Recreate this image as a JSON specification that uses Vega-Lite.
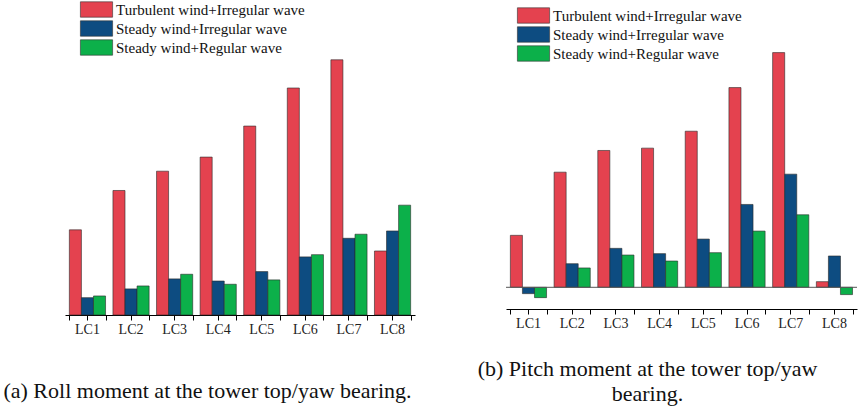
{
  "$schema": "https://vega.github.io/schema/vega-lite/v6.json",
  "description": "Tower top roll and pitch moments for eight load cases under three wind/wave conditions.",
  "autosize": {"type": "none"},
  "padding": {"left": 65, "top": 27, "right": 793, "bottom": 386},
  "background": "white",
  "datasets": {
    "roll": [
      {"lc": "LC1", "cond": "Turbulent wind+Irregular wave", "value": 6040000},
      {"lc": "LC1", "cond": "Steady wind+Irregular wave", "value": 1230000},
      {"lc": "LC1", "cond": "Steady wind+Regular wave", "value": 1350000},
      {"lc": "LC2", "cond": "Turbulent wind+Irregular wave", "value": 8830000},
      {"lc": "LC2", "cond": "Steady wind+Irregular wave", "value": 1850000},
      {"lc": "LC2", "cond": "Steady wind+Regular wave", "value": 2060000},
      {"lc": "LC3", "cond": "Turbulent wind+Irregular wave", "value": 10200000},
      {"lc": "LC3", "cond": "Steady wind+Irregular wave", "value": 2560000},
      {"lc": "LC3", "cond": "Steady wind+Regular wave", "value": 2890000},
      {"lc": "LC4", "cond": "Turbulent wind+Irregular wave", "value": 11200000},
      {"lc": "LC4", "cond": "Steady wind+Irregular wave", "value": 2410000},
      {"lc": "LC4", "cond": "Steady wind+Regular wave", "value": 2180000},
      {"lc": "LC5", "cond": "Turbulent wind+Irregular wave", "value": 13400000},
      {"lc": "LC5", "cond": "Steady wind+Irregular wave", "value": 3080000},
      {"lc": "LC5", "cond": "Steady wind+Regular wave", "value": 2490000},
      {"lc": "LC6", "cond": "Turbulent wind+Irregular wave", "value": 16100000},
      {"lc": "LC6", "cond": "Steady wind+Irregular wave", "value": 4120000},
      {"lc": "LC6", "cond": "Steady wind+Regular wave", "value": 4280000},
      {"lc": "LC7", "cond": "Turbulent wind+Irregular wave", "value": 18100000},
      {"lc": "LC7", "cond": "Steady wind+Irregular wave", "value": 5440000},
      {"lc": "LC7", "cond": "Steady wind+Regular wave", "value": 5730000},
      {"lc": "LC8", "cond": "Turbulent wind+Irregular wave", "value": 4540000},
      {"lc": "LC8", "cond": "Steady wind+Irregular wave", "value": 5960000},
      {"lc": "LC8", "cond": "Steady wind+Regular wave", "value": 7790000}
    ],
    "pitch": [
      {"lc": "LC1", "cond": "Turbulent wind+Irregular wave", "value": 5990},
      {"lc": "LC1", "cond": "Steady wind+Irregular wave", "value": -730},
      {"lc": "LC1", "cond": "Steady wind+Regular wave", "value": -1190},
      {"lc": "LC2", "cond": "Turbulent wind+Irregular wave", "value": 13270},
      {"lc": "LC2", "cond": "Steady wind+Irregular wave", "value": 2720},
      {"lc": "LC2", "cond": "Steady wind+Regular wave", "value": 2230},
      {"lc": "LC3", "cond": "Turbulent wind+Irregular wave", "value": 15770},
      {"lc": "LC3", "cond": "Steady wind+Irregular wave", "value": 4490},
      {"lc": "LC3", "cond": "Steady wind+Regular wave", "value": 3720},
      {"lc": "LC4", "cond": "Turbulent wind+Irregular wave", "value": 16040},
      {"lc": "LC4", "cond": "Steady wind+Irregular wave", "value": 3880},
      {"lc": "LC4", "cond": "Steady wind+Regular wave", "value": 3030},
      {"lc": "LC5", "cond": "Turbulent wind+Irregular wave", "value": 17990},
      {"lc": "LC5", "cond": "Steady wind+Irregular wave", "value": 5560},
      {"lc": "LC5", "cond": "Steady wind+Regular wave", "value": 3990},
      {"lc": "LC6", "cond": "Turbulent wind+Irregular wave", "value": 23020},
      {"lc": "LC6", "cond": "Steady wind+Irregular wave", "value": 9550},
      {"lc": "LC6", "cond": "Steady wind+Regular wave", "value": 6480},
      {"lc": "LC7", "cond": "Turbulent wind+Irregular wave", "value": 27050},
      {"lc": "LC7", "cond": "Steady wind+Irregular wave", "value": 13040},
      {"lc": "LC7", "cond": "Steady wind+Regular wave", "value": 8360},
      {"lc": "LC8", "cond": "Turbulent wind+Irregular wave", "value": 650},
      {"lc": "LC8", "cond": "Steady wind+Irregular wave", "value": 3610},
      {"lc": "LC8", "cond": "Steady wind+Regular wave", "value": -840}
    ]
  },
  "config": {
    "font": "Liberation Serif",
    "view": {"stroke": null},
    "axis": {
      "labelFont": "Liberation Serif",
      "titleFont": "Liberation Serif",
      "labelColor": "#222",
      "titleColor": "#111",
      "titleFontWeight": "normal",
      "titleFontSize": 16,
      "labelFontSize": 13,
      "labelOverlap": false,
      "domainColor": "#000",
      "tickColor": "#000",
      "tickSize": 5,
      "grid": false
    }
  },
  "spacing": 91,
  "bounds": "flush",
  "resolve": {
    "scale": {"y": "independent", "color": "independent"},
    "legend": {"color": "independent"}
  },
  "hconcat": [
    {
      "width": 350,
      "height": 288,
      "data": {"name": "roll"},
      "resolve": {"axis": {"x": "independent"}},
      "layer": [
        {
          "mark": {"type": "bar", "stroke": "#2a2a2a", "strokeWidth": 0.6},
          "encoding": {
            "x": {
              "field": "lc", "type": "nominal", "sort": null,
              "scale": {"paddingInner": 0.17, "paddingOuter": 0.1},
              "axis": {
                "title": "(a) Roll moment at the tower top/yaw bearing.",
                "titleFontSize": 22, "titleX": 142, "titleY": 82, "titleBaseline": "alphabetic", "titleAlign": "center",
                "labelAngle": 0, "labelFontSize": 14, "orient": "bottom"
              }
            },
            "xOffset": {"field": "cond", "sort": ["Turbulent wind+Irregular wave", "Steady wind+Irregular wave", "Steady wind+Regular wave"]},
            "y": {
              "field": "value", "type": "quantitative",
              "scale": {"domain": [0, 20425532], "nice": false},
              "axis": {
                "title": "Tower top short-time DEL(N·m)",
                "titleX": -56, "titleY": 146, "titleBaseline": "middle", "titleAlign": "center",
                "labelPadding": 3,
                "values": [0, 2000000, 4000000, 6000000, 8000000, 10000000, 12000000, 14000000, 16000000, 18000000, 20000000],
                "labelExpr": "datum.value == 0 ? '0.0' : datum.value >= 1e7 ? format(datum.value / 1e7, '.1f') + '×10⁷' : format(datum.value / 1e6, '.1f') + '×10⁶'"
              }
            },
            "color": {
              "field": "cond", "type": "nominal",
              "sort": ["Turbulent wind+Irregular wave", "Steady wind+Irregular wave", "Steady wind+Regular wave"],
              "scale": {
                "domain": ["Turbulent wind+Irregular wave", "Steady wind+Irregular wave", "Steady wind+Regular wave"],
                "range": ["#e4424f", "#0d4c81", "#0cb04a"]
              },
              "legend": {
                "orient": "none", "legendX": 24, "legendY": -25, "title": null,
                "symbolType": "M-2.3,-1.1H2.3V1.1H-2.3Z", "symbolSize": 196,
                "symbolStrokeColor": "#333", "symbolStrokeWidth": 0.6, "symbolOpacity": 1,
                "labelFont": "Liberation Serif", "labelFontSize": 15, "labelColor": "#111",
                "labelOffset": 12, "rowPadding": 0, "labelLimit": 400
              }
            }
          }
        },
        {
          "mark": {"type": "bar", "opacity": 0},
          "encoding": {
            "x": {"field": "lc", "type": "nominal", "sort": null, "axis": {"orient": "bottom", "tickBand": "extent", "labels": false, "domain": false, "title": null}},
            "y": {"field": "value", "type": "quantitative", "axis": null}
          }
        }
      ]
    },
    {
      "width": 351,
      "height": 282,
      "data": {"name": "pitch"},
      "resolve": {"axis": {"x": "independent"}},
      "layer": [
        {
          "mark": {"type": "bar", "stroke": "#2a2a2a", "strokeWidth": 0.6},
          "encoding": {
            "x": {
              "field": "lc", "type": "nominal", "sort": null,
              "scale": {"paddingInner": 0.17, "paddingOuter": 0.1},
              "axis": {
                "title": ["(b) Pitch moment at the tower top/yaw", "bearing."],
                "titleFontSize": 22, "titleX": 141, "titleY": 66, "titleBaseline": "alphabetic", "titleAlign": "center", "titleLineHeight": 25,
                "labelAngle": 0, "labelFontSize": 14, "orient": "bottom"
              }
            },
            "xOffset": {"field": "cond", "sort": ["Turbulent wind+Irregular wave", "Steady wind+Irregular wave", "Steady wind+Regular wave"]},
            "y": {
              "field": "value", "type": "quantitative",
              "scale": {"domain": [-2500, 30000], "nice": false, "zero": false},
              "axis": {
                "title": "Tower-top / yaw bearing pitch moment(kN·m)",
                "titleX": -61, "titleY": 140, "titleBaseline": "middle", "titleAlign": "center",
                "labelPadding": 3,
                "values": [0, 5000, 10000, 15000, 20000, 25000, 30000],
                "labelExpr": "datum.value == 0 ? '0.0' : datum.value >= 1e4 ? format(datum.value / 1e4, '.1f') + '×10⁴' : format(datum.value / 1e3, '.1f') + '×10³'"
              }
            },
            "color": {
              "field": "cond", "type": "nominal",
              "sort": ["Turbulent wind+Irregular wave", "Steady wind+Irregular wave", "Steady wind+Regular wave"],
              "scale": {
                "domain": ["Turbulent wind+Irregular wave", "Steady wind+Irregular wave", "Steady wind+Regular wave"],
                "range": ["#e4424f", "#0d4c81", "#0cb04a"]
              },
              "legend": {
                "orient": "none", "legendX": 20, "legendY": -19, "title": null,
                "symbolType": "M-2.3,-1.1H2.3V1.1H-2.3Z", "symbolSize": 196,
                "symbolStrokeColor": "#333", "symbolStrokeWidth": 0.6, "symbolOpacity": 1,
                "labelFont": "Liberation Serif", "labelFontSize": 15, "labelColor": "#111",
                "labelOffset": 12, "rowPadding": 0, "labelLimit": 400
              }
            }
          }
        },
        {
          "mark": {"type": "bar", "opacity": 0},
          "encoding": {
            "x": {"field": "lc", "type": "nominal", "sort": null, "axis": {"orient": "bottom", "tickBand": "extent", "labels": false, "domain": false, "title": null}},
            "y": {"field": "value", "type": "quantitative", "axis": null}
          }
        },
        {
          "data": {"values": [{"level": 0}]},
          "mark": {"type": "rule", "color": "#555", "strokeWidth": 1},
          "encoding": {"y": {"field": "level", "type": "quantitative", "axis": null}}
        }
      ]
    }
  ]
}
